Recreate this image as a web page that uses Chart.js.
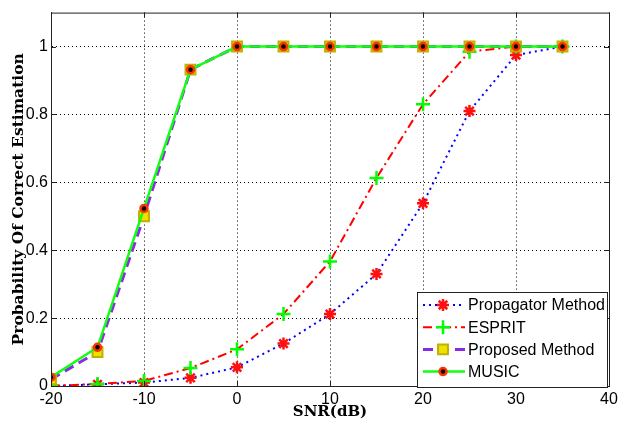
<!DOCTYPE html>
<html>
<head>
<meta charset="utf-8">
<script src="https://cdn.jsdelivr.net/npm/chart.js@4.4.0/dist/chart.umd.min.js"></script>
<style>
html, body { margin: 0; padding: 0; background: #fff; }
#wrap { width: 622px; height: 434px; position: relative; }
</style>
</head>
<body>
<div id="wrap"><canvas id="snrChart"></canvas></div>
<script>
// values
var snrValues = [-20, -15, -10, -5, 0, 5, 10, 15, 20, 25, 30, 35];
var propagatorValues = [0.0, 0.005, 0.01, 0.024, 0.055, 0.125, 0.212, 0.33, 0.538, 0.81, 0.975, 1.0];
var espritValues = [0.0, 0.006, 0.015, 0.053, 0.108, 0.212, 0.367, 0.613, 0.83, 0.985, 1.0, 1.0];
var proposedValues = [0.02, 0.10, 0.50, 0.932, 1.0, 1.0, 1.0, 1.0, 1.0, 1.0, 1.0, 1.0];
var musicValues = [0.026, 0.114, 0.523, 0.932, 1.0, 1.0, 1.0, 1.0, 1.0, 1.0, 1.0, 1.0];
var xTickValues = [-20, -10, 0, 10, 20, 30, 40];
var yTickValues = [0, 0.2, 0.4, 0.6, 0.8, 1];
var seriesNames = ['Propagator Method', 'ESPRIT', 'Proposed Method', 'MUSIC'];

var _points = function(values) {
	var out = [];
	for (var i = 0; i < snrValues.length; i++) {
		out.push({x: snrValues[i], y: values[i]});
	}
	return out;
};

var datasets = [
	{
		label: seriesNames[0], data: _points(propagatorValues), order: 3,
		borderColor: '#0000ff', borderWidth: 2, borderDash: [2, 4],
		pointStyle: 'star', pointRadius: 6, pointBorderWidth: 2.5,
		pointBorderColor: '#ff1010', pointBackgroundColor: '#ff1010'
	},
	{
		label: seriesNames[1], data: _points(espritValues), order: 2,
		borderColor: '#ff0000', borderWidth: 2, borderDash: [9, 4, 2, 4],
		pointStyle: 'cross', pointRadius: 7, pointBorderWidth: 2.5,
		pointBorderColor: '#00ff00', pointBackgroundColor: '#00ff00'
	},
	{
		label: seriesNames[2], data: _points(proposedValues), order: 1,
		borderColor: '#8a2be2', borderWidth: 3, borderDash: [10, 6],
		pointStyle: 'rect', pointRadius: 7, pointBorderWidth: 2,
		pointBorderColor: '#c0b000', pointBackgroundColor: '#f0e000'
	},
	{
		label: seriesNames[3], data: _points(musicValues), order: 0,
		borderColor: '#11ff11', borderWidth: 2.5,
		pointStyle: 'circle', pointRadius: 3.5, pointBorderWidth: 2.5,
		pointBorderColor: '#ff3300', pointBackgroundColor: '#000000'
	}
];

// matlab-ish box with inward ticks
var frameBox = {
	id: 'frameBox',
	afterDraw: function(chart) {
		var ctx = chart.ctx, a = chart.chartArea;
		var xs = chart.scales.x, ys = chart.scales.y;
		ctx.save();
		ctx.strokeStyle = '#222';
		ctx.lineWidth = 1;
		ctx.strokeRect(a.left + 0.5, a.top + 0.5, a.right - a.left, a.bottom - a.top);
		ctx.beginPath();
		for (var i = 0; i < xTickValues.length; i++) {
			var px = Math.round(xs.getPixelForValue(xTickValues[i])) + 0.5;
			ctx.moveTo(px, a.bottom); ctx.lineTo(px, a.bottom - 5);
			ctx.moveTo(px, a.top); ctx.lineTo(px, a.top + 5);
		}
		for (var j = 0; j < yTickValues.length; j++) {
			var py = Math.round(ys.getPixelForValue(yTickValues[j])) + 0.5;
			ctx.moveTo(a.left, py); ctx.lineTo(a.left + 5, py);
			ctx.moveTo(a.right, py); ctx.lineTo(a.right - 5, py);
		}
		ctx.stroke();
		ctx.restore();
	}
};

var legendBox = {
	id: 'legendBox',
	afterDraw: function(chart) {
		var ctx = chart.ctx, a = chart.chartArea;
		var w = 190, h = 95;
		var x0 = a.right - w - 2, y0 = a.bottom - h + 1;
		ctx.save();
		ctx.fillStyle = '#fff';
		ctx.fillRect(x0, y0, w, h);
		ctx.strokeStyle = '#222';
		ctx.lineWidth = 1;
		ctx.strokeRect(x0 + 0.5, y0 + 0.5, w, h);
		ctx.font = '16px "Liberation Sans", Arial, sans-serif';
		ctx.textBaseline = 'middle';
		for (var i = 0; i < chart.data.datasets.length; i++) {
			var ds = chart.data.datasets[i];
			var ry = y0 + 13 + i * 22.2;
			ctx.save();
			ctx.strokeStyle = ds.borderColor;
			ctx.lineWidth = ds.borderWidth;
			ctx.setLineDash(ds.borderDash || []);
			ctx.beginPath();
			ctx.moveTo(x0 + 6, ry); ctx.lineTo(x0 + 48, ry);
			ctx.stroke();
			ctx.setLineDash([]);
			ctx.fillStyle = ds.pointBackgroundColor;
			ctx.strokeStyle = ds.pointBorderColor;
			ctx.lineWidth = ds.pointBorderWidth;
			Chart.helpers.drawPoint(ctx, {pointStyle: ds.pointStyle, radius: ds.pointRadius, borderWidth: ds.pointBorderWidth, rotation: 0}, x0 + 26, ry);
			ctx.restore();
			ctx.fillStyle = '#000';
			ctx.fillText(ds.label, x0 + 51, ry + 1);
		}
		ctx.restore();
	}
};

var ctx = document.getElementById('snrChart');
new Chart(ctx, {
	type: 'line',
	data: { datasets: datasets },
	plugins: [frameBox, legendBox],
	options: {
		responsive: true,
		maintainAspectRatio: false,
		animation: false,
		layout: { padding: { left: 0, top: 10, right: 13, bottom: 0 } },
		plugins: { legend: { display: false }, tooltip: { enabled: false } },
		scales: {
			x: {
				type: 'linear', min: -20, max: 40,
				afterBuildTicks: function(s) { s.ticks = xTickValues.map(function(v) { return {value: v}; }); },
				afterFit: function(s) { s.height = 48; },
				grid: { color: '#000', lineWidth: 1, drawTicks: false },
				border: { color: '#222', dash: [1, 3] },
				ticks: { color: '#000', padding: 4, font: { family: '"Liberation Sans", Arial, sans-serif', size: 16 }, maxRotation: 0 },
				title: { display: true, text: 'SNR(dB)', color: '#000', padding: { top: 2, bottom: 13 },
					font: { family: '"DejaVu Serif", serif', size: 15, weight: 'bold' } }
			},
			y: {
				min: 0, max: 1.1,
				afterBuildTicks: function(s) { s.ticks = yTickValues.map(function(v) { return {value: v}; }); },
				afterFit: function(s) { s.width = 51; },
				grid: { color: '#000', lineWidth: 1, drawTicks: false },
				border: { color: '#222', dash: [1, 3] },
				ticks: { color: '#000', padding: 3, font: { family: '"Liberation Sans", Arial, sans-serif', size: 16 },
					callback: function(v) { return String(Math.round(v * 10) / 10); } },
				title: { display: true, text: 'Probability Of Correct Estimation', color: '#000', padding: { top: 10, bottom: 0 },
					font: { family: '"DejaVu Serif", serif', size: 15.5, weight: 'bold' } }
			}
		}
	}
});
</script>
</body>
</html>
